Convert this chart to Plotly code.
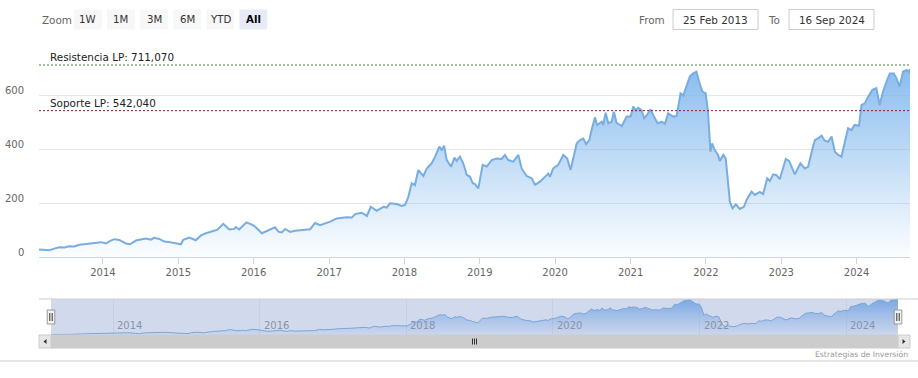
import plotly.graph_objects as go

W, H = 918, 378

dates = [
    "2013-02-25", "2013-03-23", "2013-04-16", "2013-05-10", "2013-06-03", "2013-06-28",
    "2013-07-22", "2013-08-15", "2013-09-08", "2013-10-02", "2013-10-27", "2013-11-25",
    "2013-12-22", "2014-01-16", "2014-02-05", "2014-02-25", "2014-03-21", "2014-04-22",
    "2014-05-12", "2014-06-10", "2014-07-01", "2014-07-28", "2014-08-21", "2014-09-06",
    "2014-10-01", "2014-10-25", "2014-11-13", "2014-12-04", "2014-12-22", "2015-01-14",
    "2015-01-25", "2015-02-23", "2015-03-27", "2015-04-21", "2015-05-15", "2015-06-16",
    "2015-07-10", "2015-08-07", "2015-09-05", "2015-09-29", "2015-10-07", "2015-10-23",
    "2015-11-27", "2015-12-26", "2016-01-09", "2016-02-10", "2016-03-05", "2016-04-14",
    "2016-04-30", "2016-05-17", "2016-06-02", "2016-06-26", "2016-07-20", "2016-08-30",
    "2016-10-01", "2016-10-25", "2016-11-18", "2017-01-06", "2017-02-07", "2017-03-28",
    "2017-04-21", "2017-05-07", "2017-06-08", "2017-07-03", "2017-07-22", "2017-08-20",
    "2017-09-21", "2017-10-07", "2017-10-23", "2017-11-25", "2017-12-19", "2018-01-04",
    "2018-01-20", "2018-02-05", "2018-02-21", "2018-03-09", "2018-04-03", "2018-04-19",
    "2018-05-13", "2018-05-29", "2018-06-19", "2018-07-01", "2018-07-12", "2018-07-25",
    "2018-08-15", "2018-08-31", "2018-09-11", "2018-09-27", "2018-10-13", "2018-10-30",
    "2018-11-15", "2018-11-28", "2018-12-09", "2018-12-25", "2019-01-15", "2019-02-04",
    "2019-02-28", "2019-03-24", "2019-04-17", "2019-05-03", "2019-05-19", "2019-06-13",
    "2019-07-07", "2019-07-23", "2019-08-16", "2019-09-10", "2019-09-26", "2019-10-20",
    "2019-11-13", "2019-11-29", "2019-12-07", "2019-12-23", "2020-01-16", "2020-02-10",
    "2020-02-29", "2020-03-16", "2020-03-29", "2020-04-15", "2020-05-01", "2020-05-17",
    "2020-05-30", "2020-06-15", "2020-06-26", "2020-07-12", "2020-07-23", "2020-08-14",
    "2020-08-21", "2020-09-02", "2020-09-15", "2020-10-01", "2020-10-12", "2020-10-25",
    "2020-11-19", "2020-12-13", "2021-01-01", "2021-01-14", "2021-01-25", "2021-02-07",
    "2021-02-23", "2021-03-08", "2021-03-22", "2021-04-08", "2021-04-20", "2021-05-12",
    "2021-05-31", "2021-06-16", "2021-07-02", "2021-07-26", "2021-08-12", "2021-08-31",
    "2021-09-13", "2021-09-29", "2021-10-15", "2021-10-31", "2021-11-16", "2021-11-29",
    "2021-12-15", "2021-12-31", "2022-01-11", "2022-01-23", "2022-01-31", "2022-02-13",
    "2022-03-01", "2022-03-09", "2022-03-26", "2022-04-07", "2022-04-19", "2022-04-27",
    "2022-05-10", "2022-05-26", "2022-06-14", "2022-07-04", "2022-07-17", "2022-08-10",
    "2022-08-26", "2022-09-19", "2022-10-05", "2022-10-25", "2022-11-07", "2022-11-23",
    "2022-12-09", "2022-12-25", "2023-01-23", "2023-02-08", "2023-03-08", "2023-04-04",
    "2023-04-25", "2023-05-11", "2023-06-04", "2023-06-13", "2023-06-29", "2023-07-15",
    "2023-07-31", "2023-08-16", "2023-09-02", "2023-09-18", "2023-10-04", "2023-10-20",
    "2023-11-05", "2023-11-21", "2023-12-07", "2023-12-23", "2024-01-13", "2024-01-25",
    "2024-02-10", "2024-02-26", "2024-03-18", "2024-04-06", "2024-04-22", "2024-05-08",
    "2024-05-25", "2024-06-10", "2024-06-29", "2024-07-12", "2024-07-28", "2024-08-13",
    "2024-08-30", "2024-09-11", "2024-09-16",
]

prices = [
    28, 27, 25, 31, 36, 35,
    40, 39, 45, 47, 50, 52,
    55, 50, 60, 66, 63, 50,
    47, 61, 65, 68, 64, 71,
    67, 57, 56, 52, 49, 47,
    64, 72, 62, 80, 88, 96,
    101, 123, 102, 104, 111, 102,
    128, 119, 112, 88, 96, 110,
    94, 91, 104, 93, 97, 99,
    103, 126, 118, 131, 143, 147,
    146, 159, 164, 152, 186, 171,
    186, 183, 199, 196, 189, 193,
    223, 273, 266, 322, 300, 328,
    347, 371, 409, 395, 412, 359,
    334, 368, 356, 372, 347, 304,
    297, 273, 270, 254, 341, 335,
    359, 365, 363, 378, 359, 353,
    378, 328, 300, 291, 267, 279,
    297, 309, 297, 328, 341, 378,
    365, 322, 365, 421, 433, 439,
    418, 433, 470, 517, 489, 501,
    489, 534, 495, 501, 538, 497,
    485, 520, 520, 557, 544, 553,
    544, 514, 526, 547, 526, 495,
    501, 493, 532, 520, 522, 606,
    598, 635, 668, 680, 686, 649,
    612, 606, 538, 390, 421, 396,
    378, 356, 378, 365, 267, 205,
    180, 195, 178, 186, 211, 242,
    230, 241, 233, 291, 282, 306,
    303, 288, 363, 356, 306, 347,
    328, 334, 409, 433, 440, 449,
    431, 427, 446, 390, 378, 371,
    425, 477, 470, 489, 486, 563,
    569, 594, 619, 625, 563, 612,
    649, 680, 680, 662, 631, 686,
    693, 686, 696,
]

resistance_value = 711.07
support_value = 542.04
resistance_label = "Resistencia LP: 711,070"
support_label = "Soporte LP: 542,040"

y_tick_values = [0, 200, 400, 600]
y_grid_values = [0, 200, 400, 600, 800]
year_labels = ["2014", "2015", "2016", "2017", "2018", "2019", "2020", "2021", "2022", "2023", "2024"]
navigator_years = ["2014", "2016", "2018", "2020", "2022", "2024"]
zoom_buttons = ["1W", "1M", "3M", "6M", "YTD", "All"]
selected_button = "All"
range_from = "25 Feb 2013"
range_to = "16 Sep 2024"
credits_text = "Estrategias de Inversión"

FONT = "DejaVu Sans"


def px(x):
    return x / W


def py(y):
    return 1 - y / H


# layout geometry (pixels)
MAIN_L, MAIN_R, MAIN_T, MAIN_B = 39, 910, 41, 257
NAV_L, NAV_R, NAV_T, NAV_B = 51, 898, 299, 335
SCR_T, SCR_B = 335, 348

fig = go.Figure()

fig.add_trace(go.Scatter(
    x=dates, y=prices, mode="lines",
    line=dict(color="#78ade2", width=2),
    fill="tozeroy",
    fillgradient=dict(type="vertical",
                      colorscale=[[0, "rgba(124,181,236,0.02)"], [1, "rgba(124,181,236,0.92)"]],
                      start=0, stop=720),
    xaxis="x", yaxis="y", hoverinfo="skip", showlegend=False,
))

fig.add_trace(go.Scatter(
    x=dates, y=prices, mode="lines",
    line=dict(color="#7aa6d8", width=1),
    fill="tozeroy",
    fillgradient=dict(type="vertical",
                      colorscale=[[0, "rgba(124,170,230,0.05)"], [1, "rgba(110,160,225,0.9)"]],
                      start=0, stop=720),
    xaxis="x2", yaxis="y2", hoverinfo="skip", showlegend=False,
))

shapes = []
annotations = []

# resistance / support lines
for val, col, lab in [(resistance_value, "#4d7f3a", resistance_label),
                      (support_value, "#8c1c1c", support_label)]:
    shapes.append(dict(type="line", xref="x domain", yref="y", x0=0, x1=1, y0=val, y1=val,
                       line=dict(color=col, width=1, dash="2px,2px"), layer="above"))
    annotations.append(dict(text=lab, xref="paper", yref="y", x=px(48), y=val,
                            xanchor="left", yanchor="bottom", yshift=0, showarrow=False,
                            font=dict(family=FONT, size=10.4, color="#222222")))

# y tick labels (placed slightly above gridlines)
for v in y_tick_values:
    annotations.append(dict(text=str(v), xref="paper", yref="y", x=px(26), y=v,
                            xanchor="right", yanchor="middle", yshift=5, showarrow=False,
                            font=dict(family=FONT, size=10, color="#666666")))

# navigator top outline
shapes.append(dict(type="line", xref="paper", yref="paper", x0=px(MAIN_L), x1=1,
                   y0=py(NAV_T), y1=py(NAV_T), line=dict(color="#cccccc", width=1)))
# navigator mask
shapes.append(dict(type="rect", xref="paper", yref="paper", x0=px(NAV_L), x1=px(NAV_R),
                   y0=py(NAV_B), y1=py(NAV_T), fillcolor="rgba(102,133,194,0.3)",
                   line=dict(width=0), layer="below"))

# navigator year labels
for yr in navigator_years:
    annotations.append(dict(text=yr, xref="x2", yref="paper", x=f"{yr}-01-01", y=py(NAV_B - 2),
                            xanchor="left", yanchor="bottom", xshift=2, showarrow=False,
                            font=dict(family=FONT, size=10, color="#8a92a5")))

# navigator handles
for hx in (NAV_L, NAV_R):
    shapes.append(dict(type="rect", xref="paper", yref="paper", x0=px(hx - 3.8), x1=px(hx + 3.8),
                       y0=py(324), y1=py(310), fillcolor="#f2f2f2",
                       line=dict(color="#999999", width=1), layer="above"))
    for dx in (-1.2, 1.2):
        shapes.append(dict(type="line", xref="paper", yref="paper", x0=px(hx + dx), x1=px(hx + dx),
                           y0=py(321), y1=py(313), line=dict(color="#333333", width=1), layer="above"))

# scrollbar
shapes.append(dict(type="rect", xref="paper", yref="paper", x0=px(MAIN_L), x1=px(MAIN_R),
                   y0=py(SCR_B), y1=py(SCR_T), fillcolor="#f2f2f2", line=dict(width=0)))
shapes.append(dict(type="rect", xref="paper", yref="paper", x0=px(NAV_L), x1=px(NAV_R),
                   y0=py(SCR_B), y1=py(SCR_T), fillcolor="#cccccc",
                   line=dict(color="#cccccc", width=1)))
for bx0, bx1 in ((MAIN_L, NAV_L), (NAV_R, MAIN_R)):
    shapes.append(dict(type="rect", xref="paper", yref="paper", x0=px(bx0), x1=px(bx1),
                       y0=py(SCR_B), y1=py(SCR_T), fillcolor="#e6e6e6",
                       line=dict(color="#cccccc", width=1)))
cy = (SCR_T + SCR_B) / 2
lx = (MAIN_L + NAV_L) / 2
rx = (NAV_R + MAIN_R) / 2
shapes.append(dict(type="path", xref="paper", yref="paper",
                   path=f"M {px(lx - 1.5)},{py(cy)} L {px(lx + 1.5)},{py(cy - 2.5)} L {px(lx + 1.5)},{py(cy + 2.5)} Z",
                   fillcolor="#333333", line=dict(width=0)))
shapes.append(dict(type="path", xref="paper", yref="paper",
                   path=f"M {px(rx + 1.5)},{py(cy)} L {px(rx - 1.5)},{py(cy - 2.5)} L {px(rx - 1.5)},{py(cy + 2.5)} Z",
                   fillcolor="#333333", line=dict(width=0)))
gx = (NAV_L + NAV_R) / 2
for dx in (-2, 0, 2):
    shapes.append(dict(type="line", xref="paper", yref="paper", x0=px(gx + dx), x1=px(gx + dx),
                       y0=py(cy + 3), y1=py(cy - 3), line=dict(color="#333333", width=1)))

# bottom border + credits
shapes.append(dict(type="line", xref="paper", yref="paper", x0=0, x1=1, y0=py(361), y1=py(361),
                   line=dict(color="#cccccc", width=1)))
annotations.append(dict(text=credits_text, xref="paper", yref="paper", x=px(910), y=py(354),
                        xanchor="right", yanchor="middle", showarrow=False,
                        font=dict(family=FONT, size=7.7, color="#999999")))

# range selector
annotations.append(dict(text="Zoom", xref="paper", yref="paper", x=px(40), y=py(19.5),
                        xanchor="left", yanchor="middle", showarrow=False,
                        font=dict(family=FONT, size=10.4, color="#666666")))
for i, lab in enumerate(zoom_buttons):
    bx0 = 74 + i * 33.1
    bx1 = bx0 + 27.7
    sel = lab == selected_button
    shapes.append(dict(type="rect", xref="paper", yref="paper", x0=px(bx0), x1=px(bx1),
                       y0=py(29.5), y1=py(9.5), fillcolor="#e6ebf5" if sel else "#f7f7f7",
                       line=dict(width=0)))
    annotations.append(dict(text=f"<b>{lab}</b>" if sel else lab, xref="paper", yref="paper",
                            x=px((bx0 + bx1) / 2), y=py(19.5), xanchor="center", yanchor="middle",
                            showarrow=False,
                            font=dict(family=FONT, size=10.2, color="#000000" if sel else "#333333")))

# from / to inputs
for lab, lab_right, bx0, bx1, val in (("From", 667, 673, 758, range_from),
                                      ("To", 782, 789, 874, range_to)):
    annotations.append(dict(text=lab, xref="paper", yref="paper", x=px(lab_right), y=py(19.5),
                            xanchor="right", yanchor="middle", showarrow=False,
                            font=dict(family=FONT, size=10.4, color="#666666")))
    shapes.append(dict(type="rect", xref="paper", yref="paper", x0=px(bx0), x1=px(bx1),
                       y0=py(29.5), y1=py(9.5), fillcolor="#ffffff",
                       line=dict(color="#cccccc", width=1)))
    annotations.append(dict(text=val, xref="paper", yref="paper", x=px((bx0 + bx1) / 2), y=py(19.5),
                            xanchor="center", yanchor="middle", showarrow=False,
                            font=dict(family=FONT, size=10.4, color="#333333")))

fig.update_layout(
    width=W, height=H,
    margin=dict(l=0, r=0, t=0, b=0, pad=0),
    paper_bgcolor="#ffffff", plot_bgcolor="rgba(0,0,0,0)",
    showlegend=False,
    font=dict(family=FONT, size=10, color="#666666"),
    xaxis=dict(domain=[px(MAIN_L), px(MAIN_R)], range=[dates[0], dates[-1]],
               tickvals=[f"{y}-01-01" for y in year_labels], ticktext=year_labels,
               ticks="outside", ticklen=6, tickcolor="#ccd6eb", showline=True,
               linecolor="#ccd6eb", showgrid=False, zeroline=False, automargin=False,
               tickfont=dict(family=FONT, size=10, color="#666666"), fixedrange=True,
               anchor="y"),
    yaxis=dict(domain=[py(MAIN_B), py(MAIN_T)], range=[0, 800], tickvals=y_grid_values,
               showticklabels=False, gridcolor="#e6e6e6", zeroline=False, automargin=False,
               fixedrange=True, anchor="x"),
    xaxis2=dict(domain=[px(NAV_L), px(NAV_R)], range=[dates[0], dates[-1]],
                tickvals=[f"{y}-01-01" for y in navigator_years], showticklabels=False,
                showgrid=True, gridcolor="#c9cfdc", zeroline=False, automargin=False,
                fixedrange=True, anchor="y2"),
    yaxis2=dict(domain=[py(NAV_B), py(NAV_T)], range=[20, 705], showgrid=False,
                showticklabels=False, zeroline=False, automargin=False, fixedrange=True,
                anchor="x2"),
    shapes=shapes,
    annotations=annotations,
)

fig.write_html(
    "out.html",
    config={"displayModeBar": False},
    post_script="document.body.style.margin='0';document.body.style.overflow='hidden';",
)
